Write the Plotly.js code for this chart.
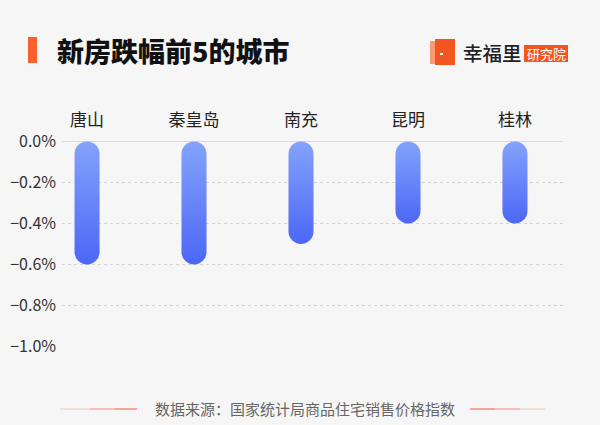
<!DOCTYPE html>
<html>
<head>
<meta charset="utf-8">
<script src="https://cdn.plot.ly/plotly-3.0.1.min.js"></script>
<style>
html,body{margin:0;padding:0;background:#f6f6f6;}
#chart{width:600px;height:425px;}
</style>
</head>
<body>
<div id="chart"></div>
<script>
// ---- data ----
const cities = ['唐山', '秦皇岛', '南充', '昆明', '桂林'];
const changes = [-0.6, -0.6, -0.5, -0.4, -0.4];
const yTickVals = [0, -0.2, -0.4, -0.6, -0.8, -1.0];
const yTickText = ['0.0%', '−0.2%', '−0.4%', '−0.6%', '−0.8%', '−1.0%'];
const titleText = '新房跌幅前5的城市';
const sourceText = '数据来源：国家统计局商品住宅销售价格指数';
const brandText = '幸福里';
const brandTag = '研究院';

// ---- layout helpers (pixel -> paper) ----
const W = 600, H = 425;
const M = {l: 62, r: 37, t: 141, b: 78};
const PW = W - M.l - M.r, PH = H - M.t - M.b;
const px = x => (x - M.l) / PW;
const py = y => (H - M.b - y) / PH;
const FONT = '"Noto Sans CJK SC", "Noto Sans", sans-serif';

function rect(x0, y0, x1, y1, color) {
  return {type: 'rect', xref: 'paper', yref: 'paper', x0: px(x0), x1: px(x1), y0: py(y0), y1: py(y1),
          fillcolor: color, line: {width: 0}, layer: 'above'};
}
function hline(x0, x1, y, color, w) {
  return {type: 'line', xref: 'paper', yref: 'paper', x0: px(x0), x1: px(x1), y0: py(y), y1: py(y),
          line: {color: color, width: w}, layer: 'above'};
}

const shapes = [
  rect(28, 37, 37, 63, '#f9602c'),
  // logo icon
  rect(430, 41, 436, 64, '#fb9a74'),
  rect(435, 39, 455, 65, '#f2561e'),
  rect(440, 53, 443, 55, '#ffffff'),
  // tag box
  rect(524, 45, 568, 62, '#f2561e'),
  // footer lines
  hline(60, 90, 409, 'rgba(244,120,95,0.25)', 1.5),
  hline(90, 115, 409, 'rgba(244,120,95,0.55)', 1.5),
  hline(115, 137, 409, 'rgba(244,120,95,0.85)', 1.5),
  hline(470, 495, 409, 'rgba(244,120,95,0.85)', 1.5),
  hline(495, 520, 409, 'rgba(244,120,95,0.55)', 1.5),
  hline(520, 545, 409, 'rgba(244,120,95,0.25)', 1.5)
];

const annotations = [
  {text: brandText, xref: 'paper', yref: 'paper', x: px(461), y: py(52), xanchor: 'left', yanchor: 'middle',
   showarrow: false, font: {family: FONT, size: 19.5, color: '#222', weight: 500}},
  {text: brandTag, xref: 'paper', yref: 'paper', x: px(546), y: py(53.5), xanchor: 'center', yanchor: 'middle',
   showarrow: false, font: {family: FONT, size: 13, color: '#ffffff'}},
  {text: sourceText, xref: 'paper', yref: 'paper', x: px(305), y: py(408), xanchor: 'center', yanchor: 'middle',
   showarrow: false, font: {family: FONT, size: 15, color: '#666'}}
];

const trace = {
  type: 'bar',
  x: cities,
  y: changes,
  width: 0.234,
  marker: {color: '#6685f8', cornerradius: 12, line: {width: 0}},
  hoverinfo: 'none'
};

const layout = {
  width: W, height: H,
  margin: M,
  paper_bgcolor: '#f6f6f6',
  plot_bgcolor: '#f6f6f6',
  showlegend: false,
  title: {text: titleText, xref: 'container', yref: 'container', x: 57 / W, xanchor: 'left',
          y: 1 - 53 / H, yanchor: 'middle', font: {family: FONT, size: 27, color: '#111', weight: 900}},
  xaxis: {type: 'category', side: 'top', range: [-0.234, 4.449], showgrid: false, zeroline: false,
          showline: false, ticks: 'outside', ticklen: 7, tickcolor: 'rgba(0,0,0,0)',
          tickfont: {family: FONT, size: 17, color: '#222'}, fixedrange: true},
  yaxis: {range: [-1.002, 0.002], tickvals: yTickVals, ticktext: yTickText,
          showgrid: true, gridcolor: '#d2d2d2', griddash: 'dot', gridwidth: 1,
          zeroline: true, zerolinecolor: '#d9d9d9', zerolinewidth: 1.2, showline: false,
          ticks: '', ticklabelstandoff: 5,
          tickfont: {family: FONT, size: 16, color: '#333'}, fixedrange: true},
  shapes: shapes,
  annotations: annotations
};

Plotly.newPlot('chart', [trace], layout, {displayModeBar: false, staticPlot: true}).then(gd => {
  // gradient fill + fully rounded ends on the bars Plotly drew
  const svg = gd.querySelector('.main-svg');
  const ns = 'http://www.w3.org/2000/svg';
  let defs = svg.querySelector('defs');
  if (!defs) { defs = document.createElementNS(ns, 'defs'); svg.insertBefore(defs, svg.firstChild); }
  const g = document.createElementNS(ns, 'linearGradient');
  g.setAttribute('id', 'barGrad');
  g.setAttribute('x1', '0'); g.setAttribute('y1', '0'); g.setAttribute('x2', '0'); g.setAttribute('y2', '1');
  [['0', '#83a3fb'], ['1', '#4c67f6']].forEach(([o, c]) => {
    const s = document.createElementNS(ns, 'stop');
    s.setAttribute('offset', o); s.setAttribute('stop-color', c);
    g.appendChild(s);
  });
  defs.appendChild(g);
  gd.querySelectorAll('.barlayer .point path').forEach(p => {
    const b = p.getBBox();
    const r = b.width / 2;
    const x0 = b.x, x1 = b.x + b.width, y0 = b.y, y1 = b.y + b.height;
    p.setAttribute('d',
      `M${x0},${y0 + r}A${r},${r} 0 0 1 ${x1},${y0 + r}L${x1},${y1 - r}A${r},${r} 0 0 1 ${x0},${y1 - r}Z`);
    p.style.fill = 'url(#barGrad)';
  });
});
</script>
</body>
</html>
